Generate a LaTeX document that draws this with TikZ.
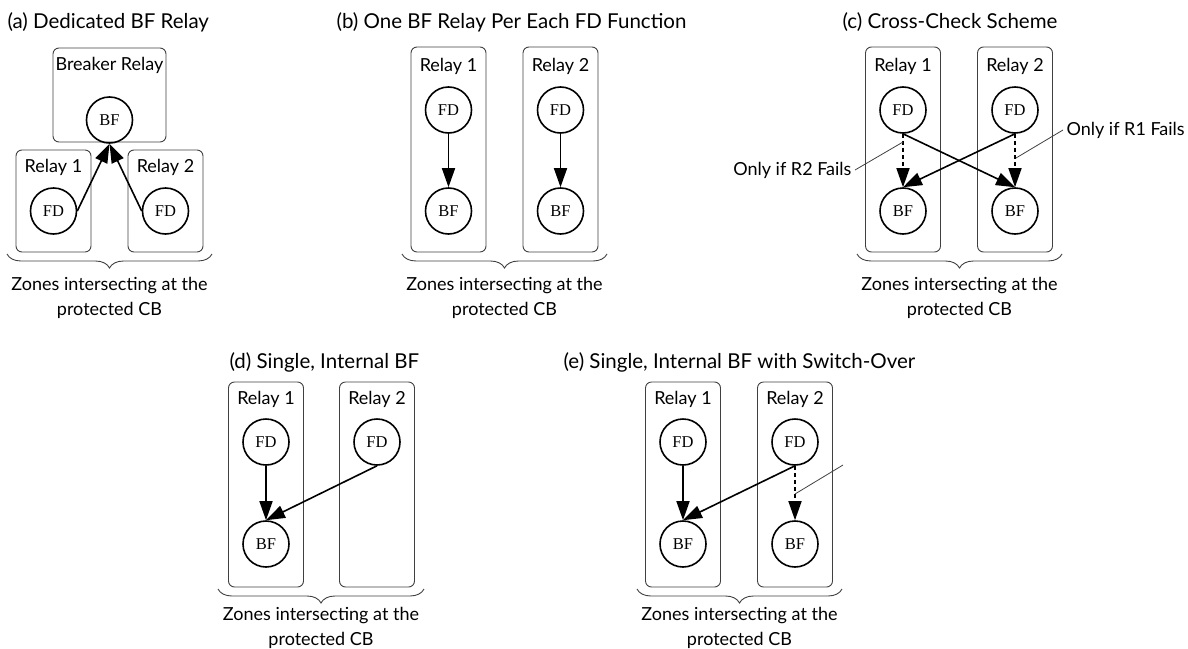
\documentclass[tikz,border=0pt]{standalone}
\usepackage{fontspec}
\setmainfont{Lato}
\newfontfamily\circfont{Liberation Serif}
\usetikzlibrary{arrows.meta,decorations.pathreplacing}
\begin{document}
\begin{tikzpicture}[x=1pt,y=-1pt,
  relaybox/.style={draw=black!75, line width=0.9pt, rounded corners=6pt, inner sep=0pt},
  fn/.style={circle, draw, line width=1.6pt, minimum size=46pt, inner sep=0pt, font=\circfont\fontsize{16.5}{16.5}\selectfont},
  lbl/.style={font=\fontsize{18}{18}\selectfont},
  ttl/.style={font=\fontsize{20.5}{20.5}\selectfont, anchor=west},
  note/.style={font=\fontsize{18}{25}\selectfont, align=center},
  trip/.style={line width=1.6pt, -{Triangle[length=19pt,width=13pt]}},
  backup/.style={trip, dash pattern=on 4pt off 3pt},
  leader/.style={draw=black!75, line width=0.8pt},
  zone/.style={draw=black!75, line width=0.9pt, decorate, decoration={brace, mirror, amplitude=14pt}}
]
\useasboundingbox (0,0) rectangle (1188,648);

% ---------- (a) Dedicated BF Relay ----------
\node[ttl] (ta) at (4,22) {(a) Dedicated BF Relay};
\node[relaybox, minimum width=113pt, minimum height=94pt] (abr) at (109.5,95) {};
\node[lbl] (abrl) at (109.5,65) {Breaker Relay};
\node[relaybox, minimum width=75pt, minimum height=102pt] (ar1) at (53.5,201) {};
\node[relaybox, minimum width=75pt, minimum height=102pt] (ar2) at (165.5,201) {};
\node[lbl] (ar1l) at (53.5,167) {Relay 1};
\node[lbl] (ar2l) at (165.5,167) {Relay 2};
\node[fn] (abf) at (109.5,120) {BF};
\node[fn] (afd1) at (53.5,211) {FD};
\node[fn] (afd2) at (165.5,211) {FD};
\draw[trip] (afd1.east) -- (abf.south);
\draw[trip] (afd2.west) -- (abf.south);
\coordinate (abl) at (7,254);
\coordinate (abr2) at (212,254);
\draw[zone] (abl) -- (abr2);
\node[note] (an) at (109.5,298) {Zones intersecting at the\\protected CB};

% ---------- (b) One BF Relay Per Each FD Function ----------
\node[ttl] (tb) at (333,22) {(b) One BF Relay Per Each FD Function};
\node[relaybox, minimum width=75pt, minimum height=205pt] (br1) at (448.5,149.5) {};
\node[relaybox, minimum width=75pt, minimum height=205pt] (br2) at (560.5,149.5) {};
\node[lbl] (br1l) at (448.5,66) {Relay 1};
\node[lbl] (br2l) at (560.5,66) {Relay 2};
\node[fn] (bfd1) at (448.5,110) {FD};
\node[fn] (bbf1) at (448.5,211) {BF};
\node[fn] (bfd2) at (560.5,110) {FD};
\node[fn] (bbf2) at (560.5,211) {BF};
\draw[trip] (bfd1) -- (bbf1);
\draw[trip] (bfd2) -- (bbf2);
\coordinate (bbl) at (402,254);
\coordinate (bbr) at (607,254);
\draw[zone] (bbl) -- (bbr);
\node[note] (bn) at (504.5,298) {Zones intersecting at the\\protected CB};

% ---------- (c) Cross-Check Scheme ----------
\node[ttl] (tc) at (839,22) {(c) Cross-Check Scheme};
\node[relaybox, minimum width=75pt, minimum height=205pt] (cr1) at (903,149.5) {};
\node[relaybox, minimum width=75pt, minimum height=205pt] (cr2) at (1015,149.5) {};
\node[lbl] (cr1l) at (903,66) {Relay 1};
\node[lbl] (cr2l) at (1015,66) {Relay 2};
\node[fn] (cfd1) at (903,110) {FD};
\node[fn] (cbf1) at (903,211) {BF};
\node[fn] (cfd2) at (1015,110) {FD};
\node[fn] (cbf2) at (1015,211) {BF};
\draw[backup] (cfd1.south) -- (cbf1.north);
\draw[trip] (cfd1.south) -- (cbf2.north);
\draw[trip] (cfd2.south) -- (cbf1.north);
\draw[backup] (cfd2.south) -- (cbf2.north);
\node[lbl, anchor=east] (cn2) at (855,170) {Only if R2 Fails};
\node[lbl, anchor=west] (cn1) at (1063,130) {Only if R1 Fails};
\coordinate (cp1) at (903,142);
\coordinate (cp2) at (1016,158);
\draw[leader] (cn2.east) -- (cp1);
\draw[leader] (cn1.west) -- (cp2);
\coordinate (cbl) at (857,254);
\coordinate (cbr) at (1062,254);
\draw[zone] (cbl) -- (cbr);
\node[note] (cn) at (959.5,298) {Zones intersecting at the\\protected CB};

% ---------- (d) Single, Internal BF ----------
\node[ttl] (td) at (226,362) {(d) Single, Internal BF};
\node[relaybox, minimum width=75pt, minimum height=205pt] (dr1) at (266,484.5) {};
\node[relaybox, minimum width=75pt, minimum height=205pt] (dr2) at (377,484.5) {};
\node[lbl] (dr1l) at (266,399) {Relay 1};
\node[lbl] (dr2l) at (377,399) {Relay 2};
\node[fn] (dfd1) at (266,442) {FD};
\node[fn] (dbf1) at (266,544) {BF};
\node[fn] (dfd2) at (377,442) {FD};
\draw[trip] (dfd1) -- (dbf1);
\draw[trip] (dfd2.south) -- (dbf1.north);
\coordinate (dbl) at (218,589);
\coordinate (dbr) at (424,589);
\draw[zone] (dbl) -- (dbr);
\node[note] (dn) at (321,628) {Zones intersecting at the\\protected CB};

% ---------- (e) Single, Internal BF with Switch-Over ----------
\node[ttl] (te) at (560,362) {(e) Single, Internal BF with Switch-Over};
\node[relaybox, minimum width=75pt, minimum height=205pt] (er1) at (683,484.5) {};
\node[relaybox, minimum width=75pt, minimum height=205pt] (er2) at (795,484.5) {};
\node[lbl] (er1l) at (683,399) {Relay 1};
\node[lbl] (er2l) at (795,399) {Relay 2};
\node[fn] (efd1) at (683,442) {FD};
\node[fn] (ebf1) at (683,544) {BF};
\node[fn] (efd2) at (795,442) {FD};
\node[fn] (ebf2) at (795,544) {BF};
\draw[trip] (efd1) -- (ebf1);
\draw[trip] (efd2.south) -- (ebf1.north);
\draw[backup] (efd2.south) -- (ebf2.north);
\coordinate (ep1) at (795,494);
\coordinate (ep2) at (843,465);
\draw[leader] (ep1) -- (ep2);
\coordinate (ebl) at (637,589);
\coordinate (ebr) at (842,589);
\draw[zone] (ebl) -- (ebr);
\node[note] (en) at (739.5,628) {Zones intersecting at the\\protected CB};
\end{tikzpicture}
\end{document}
